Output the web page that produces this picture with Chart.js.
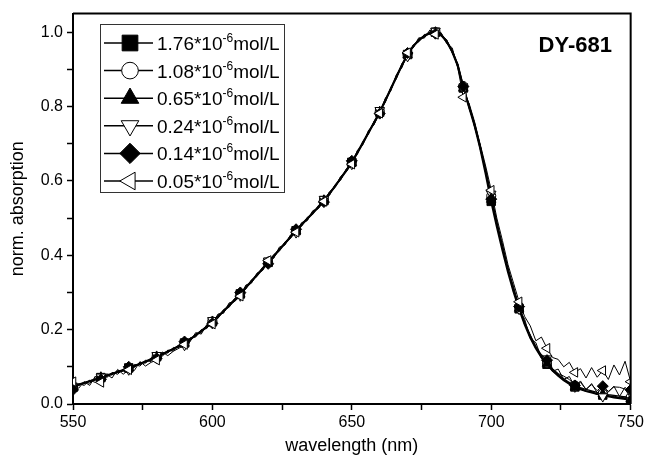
<!DOCTYPE html>
<html>
<head>
<meta charset="utf-8">
<script src="https://cdn.jsdelivr.net/npm/chart.js"></script>
<style>
  html, body { margin: 0; padding: 0; background: #fff; }
  #wrap { width: 647px; height: 459px; }
</style>
</head>
<body>
<div id="wrap"><canvas id="grafico" width="647" height="459"></canvas></div>
<script>
// wavelength grid (nm)
const wavelengths = [
  550, 552, 554, 556, 558, 560, 562, 564, 566, 568,
  570, 572, 574, 576, 578, 580, 582, 584, 586, 588,
  590, 592, 594, 596, 598, 600, 602, 604, 606, 608,
  610, 612, 614, 616, 618, 620, 622, 624, 626, 628,
  630, 632, 634, 636, 638, 640, 642, 644, 646, 648,
  650, 652, 654, 656, 658, 660, 662, 664, 666, 668,
  670, 672, 674, 676, 678, 680, 682, 684, 686, 688,
  690, 692, 694, 696, 698, 700, 702, 704, 706, 708,
  710, 712, 714, 716, 718, 720, 722, 724, 726, 728,
  730, 732, 734, 736, 738, 740, 742, 744, 746, 748,
  750
];

const concentrations = ['1.76', '1.08', '0.65', '0.24', '0.14', '0.05'];

const abs176 = [
  0.045, 0.052, 0.057, 0.061, 0.066, 0.071, 0.076, 0.081, 0.086, 0.091,
  0.097, 0.102, 0.108, 0.114, 0.120, 0.127, 0.134, 0.141, 0.148, 0.156,
  0.164, 0.174, 0.185, 0.196, 0.208, 0.221, 0.235, 0.250, 0.265, 0.280,
  0.296, 0.313, 0.330, 0.347, 0.364, 0.381, 0.398, 0.415, 0.432, 0.449,
  0.466, 0.482, 0.498, 0.514, 0.530, 0.547, 0.566, 0.586, 0.607, 0.628,
  0.650, 0.676, 0.703, 0.730, 0.757, 0.785, 0.816, 0.848, 0.880, 0.912,
  0.940, 0.962, 0.978, 0.990, 0.998, 1.000, 0.993, 0.975, 0.948, 0.910,
  0.850, 0.800, 0.750, 0.690, 0.620, 0.545, 0.478, 0.415, 0.356, 0.303,
  0.256, 0.214, 0.179, 0.150, 0.126, 0.107, 0.090, 0.076, 0.064, 0.054,
  0.046, 0.040, 0.035, 0.031, 0.027, 0.024, 0.021, 0.018, 0.016, 0.014,
  0.012
];

const abs108 = [
  0.046, 0.051, 0.056, 0.062, 0.066, 0.070, 0.076, 0.082, 0.086, 0.090,
  0.096, 0.103, 0.108, 0.113, 0.121, 0.127, 0.133, 0.141, 0.149, 0.156,
  0.165, 0.174, 0.184, 0.196, 0.209, 0.222, 0.235, 0.249, 0.265, 0.281,
  0.297, 0.313, 0.329, 0.347, 0.365, 0.381, 0.397, 0.415, 0.433, 0.449,
  0.465, 0.482, 0.499, 0.514, 0.529, 0.547, 0.567, 0.586, 0.606, 0.628,
  0.651, 0.676, 0.702, 0.730, 0.758, 0.786, 0.815, 0.848, 0.881, 0.911,
  0.939, 0.962, 0.979, 0.991, 0.998, 1.000, 0.994, 0.977, 0.950, 0.913,
  0.855, 0.804, 0.754, 0.695, 0.630, 0.560, 0.490, 0.426, 0.366, 0.311,
  0.263, 0.220, 0.185, 0.155, 0.131, 0.111, 0.094, 0.080, 0.068, 0.058,
  0.050, 0.044, 0.039, 0.035, 0.031, 0.028, 0.025, 0.023, 0.021, 0.019,
  0.018
];

const abs065 = [
  0.044, 0.053, 0.055, 0.062, 0.065, 0.072, 0.075, 0.082, 0.085, 0.092,
  0.096, 0.103, 0.107, 0.115, 0.119, 0.128, 0.133, 0.142, 0.147, 0.157,
  0.163, 0.175, 0.184, 0.197, 0.207, 0.222, 0.234, 0.251, 0.264, 0.281,
  0.295, 0.314, 0.329, 0.348, 0.363, 0.382, 0.397, 0.416, 0.431, 0.450,
  0.465, 0.483, 0.497, 0.515, 0.529, 0.548, 0.565, 0.587, 0.606, 0.629,
  0.649, 0.677, 0.702, 0.731, 0.756, 0.786, 0.815, 0.849, 0.879, 0.913,
  0.939, 0.963, 0.977, 0.991, 0.997, 1.000, 0.992, 0.976, 0.947, 0.911,
  0.849, 0.802, 0.749, 0.692, 0.624, 0.550, 0.484, 0.422, 0.359, 0.307,
  0.257, 0.217, 0.179, 0.152, 0.125, 0.109, 0.089, 0.078, 0.063, 0.056,
  0.045, 0.042, 0.034, 0.033, 0.026, 0.027, 0.020, 0.022, 0.016, 0.019,
  0.013
];

const abs024 = [
  0.040, 0.055, 0.050, 0.064, 0.058, 0.073, 0.070, 0.085, 0.080, 0.094,
  0.092, 0.106, 0.102, 0.118, 0.114, 0.131, 0.128, 0.145, 0.142, 0.160,
  0.158, 0.178, 0.180, 0.200, 0.203, 0.225, 0.230, 0.254, 0.260, 0.284,
  0.291, 0.317, 0.325, 0.351, 0.359, 0.385, 0.393, 0.419, 0.428, 0.453,
  0.461, 0.486, 0.494, 0.518, 0.526, 0.551, 0.561, 0.590, 0.602, 0.632,
  0.645, 0.680, 0.698, 0.734, 0.752, 0.790, 0.811, 0.852, 0.875, 0.916,
  0.935, 0.966, 0.974, 0.994, 0.994, 1.003, 0.989, 0.980, 0.944, 0.915,
  0.846, 0.808, 0.746, 0.698, 0.621, 0.565, 0.481, 0.430, 0.356, 0.316,
  0.255, 0.228, 0.176, 0.165, 0.124, 0.122, 0.088, 0.094, 0.066, 0.074,
  0.046, 0.062, 0.038, 0.055, 0.030, 0.020, 0.032, 0.048, 0.020, 0.045,
  0.030
];

const abs014 = [
  0.038, 0.050, 0.058, 0.056, 0.070, 0.066, 0.081, 0.078, 0.090, 0.088,
  0.100, 0.098, 0.112, 0.110, 0.124, 0.123, 0.138, 0.137, 0.152, 0.152,
  0.168, 0.170, 0.189, 0.192, 0.212, 0.217, 0.239, 0.246, 0.269, 0.276,
  0.300, 0.309, 0.334, 0.343, 0.368, 0.377, 0.402, 0.411, 0.436, 0.445,
  0.470, 0.478, 0.502, 0.510, 0.534, 0.543, 0.570, 0.582, 0.611, 0.624,
  0.654, 0.672, 0.707, 0.726, 0.761, 0.781, 0.820, 0.844, 0.884, 0.908,
  0.944, 0.958, 0.982, 0.986, 1.002, 0.996, 0.997, 0.971, 0.952, 0.906,
  0.854, 0.796, 0.754, 0.686, 0.629, 0.551, 0.489, 0.416, 0.364, 0.301,
  0.262, 0.212, 0.186, 0.148, 0.134, 0.118, 0.095, 0.082, 0.075, 0.066,
  0.050, 0.058, 0.040, 0.052, 0.036, 0.048, 0.034, 0.046, 0.045, 0.040,
  0.038
];

const abs005 = [
  0.060, 0.042, 0.060, 0.050, 0.075, 0.058, 0.080, 0.070, 0.093, 0.080,
  0.092, 0.090, 0.114, 0.102, 0.112, 0.118, 0.140, 0.130, 0.142, 0.150,
  0.160, 0.168, 0.192, 0.188, 0.214, 0.215, 0.242, 0.244, 0.272, 0.276,
  0.290, 0.320, 0.326, 0.352, 0.360, 0.386, 0.392, 0.422, 0.428, 0.455,
  0.462, 0.488, 0.493, 0.520, 0.526, 0.545, 0.571, 0.584, 0.612, 0.625,
  0.645, 0.682, 0.699, 0.736, 0.752, 0.782, 0.822, 0.843, 0.886, 0.905,
  0.945, 0.958, 0.985, 0.984, 1.006, 0.994, 0.999, 0.970, 0.958, 0.904,
  0.825, 0.810, 0.760, 0.700, 0.640, 0.575, 0.500, 0.440, 0.375, 0.325,
  0.275, 0.235, 0.210, 0.170, 0.180, 0.150, 0.125, 0.120, 0.100, 0.112,
  0.085, 0.095, 0.070, 0.098, 0.072, 0.090, 0.066, 0.105, 0.078, 0.115,
  0.060
];

const seriesValues = [abs176, abs108, abs065, abs024, abs014, abs005];
const dyeName = 'DY-681';

const FONTE = '"Liberation Sans", Arial, Helvetica, sans-serif';

// marker look for each series
const estilos = [
  { pointStyle: 'rect',     rotation: 0,   fill: '#000', r: 6 },
  { pointStyle: 'circle',   rotation: 0,   fill: '#fff', r: 4.5 },
  { pointStyle: 'triangle', rotation: 0,   fill: '#000', r: 5.5 },
  { pointStyle: 'triangle', rotation: 180, fill: '#fff', r: 5.5 },
  { pointStyle: 'rectRot',  rotation: 0,   fill: '#000', r: 5.5 },
  { pointStyle: 'triangle', rotation: -90, fill: '#fff', r: 5.5 }
];
const larguras = [2.2, 1.3, 1.3, 1, 1, 1];

const datasets = seriesValues.map(function (vals, i) {
  return {
    label: concentrations[i],
    data: wavelengths.map((w, j) => ({ x: w, y: vals[j] })),
    borderColor: '#000',
    borderWidth: larguras[i],
    pointStyle: estilos[i].pointStyle,
    rotation: estilos[i].rotation,
    pointBackgroundColor: estilos[i].fill,
    pointBorderColor: '#000',
    pointBorderWidth: 1,
    pointRadius: ctx => (wavelengths[ctx.dataIndex] % 10 === 0 ? estilos[i].r : 0),
    tension: 0,
    order: 5 - i
  };
});

// frame on top and right + dye label
const moldura = {
  id: 'moldura',
  afterDraw(chart) {
    const { ctx, chartArea: a } = chart;
    ctx.save();
    ctx.strokeStyle = '#000';
    ctx.lineWidth = 2;
    ctx.beginPath();
    ctx.moveTo(a.left, a.top);
    ctx.lineTo(a.right, a.top);
    ctx.lineTo(a.right, a.bottom);
    ctx.stroke();
    ctx.fillStyle = '#000';
    ctx.font = 'bold 22px ' + FONTE;
    ctx.textAlign = 'right';
    ctx.textBaseline = 'middle';
    ctx.fillText(dyeName, 612, 46);
    ctx.restore();
  }
};

// legend with line through marker and superscript exponent
const legenda = {
  id: 'legenda',
  afterDraw(chart) {
    const ctx = chart.ctx;
    ctx.save();
    ctx.fillStyle = '#fff';
    ctx.fillRect(100, 24, 184, 168);
    ctx.strokeStyle = '#333';
    ctx.lineWidth = 1;
    ctx.strokeRect(100.5, 24.5, 184, 168);

    concentrations.forEach(function (c, i) {
      const y = 43 + i * 27.6;
      ctx.strokeStyle = '#000';
      ctx.lineWidth = 1.5;
      ctx.beginPath();
      ctx.moveTo(104, y);
      ctx.lineTo(153, y);
      ctx.stroke();

      ctx.fillStyle = estilos[i].fill;
      ctx.strokeStyle = '#000';
      ctx.lineWidth = 1;
      Chart.helpers.drawPoint(ctx, {
        pointStyle: estilos[i].pointStyle,
        rotation: estilos[i].rotation,
        radius: estilos[i].r * 1.85,
        borderWidth: 1
      }, 130, y);

      ctx.fillStyle = '#000';
      ctx.textAlign = 'left';
      ctx.textBaseline = 'alphabetic';
      let x = 157;
      const base = c + '*10';
      ctx.font = '19px ' + FONTE;
      ctx.fillText(base, x, y + 7);
      x += ctx.measureText(base).width;
      ctx.font = '12px ' + FONTE;
      ctx.fillText('-6', x, y - 1);
      x += ctx.measureText('-6').width;
      ctx.font = '19px ' + FONTE;
      ctx.fillText('mol/L', x, y + 7);
    });
    ctx.restore();
  }
};

new Chart(document.getElementById('grafico').getContext('2d'), {
  type: 'line',
  data: { datasets: datasets },
  options: {
    responsive: false,
    animation: false,
    events: [],
    layout: { padding: { left: 0, top: 12, right: 14, bottom: 0 } },
    plugins: {
      legend: { display: false },
      tooltip: { enabled: false }
    },
    scales: {
      x: {
        type: 'linear',
        min: 550,
        max: 750,
        afterFit: s => { s.height = 55; },
        ticks: {
          stepSize: 25,
          autoSkip: false,
          maxRotation: 0,
          padding: 3,
          color: '#000',
          font: { family: FONTE, size: 16 },
          callback: v => (v % 50 === 0 ? String(v) : '')
        },
        grid: { drawOnChartArea: false, drawTicks: true, tickLength: 6, tickColor: '#000', tickWidth: 1.5 },
        border: { display: true, color: '#000', width: 2 },
        title: {
          display: true,
          text: 'wavelength (nm)',
          color: '#000',
          font: { family: FONTE, size: 18 },
          padding: { top: 0, bottom: 2 }
        }
      },
      y: {
        min: 0,
        max: 1.05,
        afterBuildTicks: s => { s.ticks = s.ticks.filter(t => t.value <= 1.0001); },
        afterFit: s => { s.width = 73; },
        ticks: {
          stepSize: 0.1,
          autoSkip: false,
          padding: 4,
          color: '#000',
          font: { family: FONTE, size: 16 },
          callback: v => (Math.round(v * 10) % 2 === 0 ? v.toFixed(1) : '')
        },
        grid: { drawOnChartArea: false, drawTicks: true, tickLength: 6, tickColor: '#000', tickWidth: 1.5 },
        border: { display: true, color: '#000', width: 2 },
        title: {
          display: true,
          text: 'norm. absorption',
          color: '#000',
          font: { family: FONTE, size: 18 },
          padding: { top: 7, bottom: 0 }
        }
      }
    }
  },
  plugins: [moldura, legenda]
});
</script>
</body>
</html>
